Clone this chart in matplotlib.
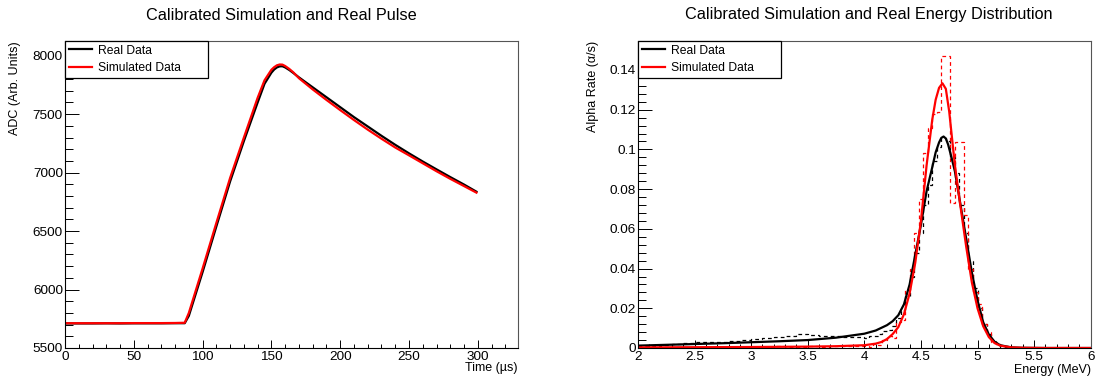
import numpy as np
import matplotlib
matplotlib.use("Agg")
import matplotlib.pyplot as plt
from matplotlib.ticker import MultipleLocator, FormatStrFormatter

plt.rcParams['font.family'] = ['Liberation Sans', 'DejaVu Sans']

# ---- Pulse data (time in us, ADC counts) ----
pulse_time = [0, 10, 20, 30, 40, 50, 60, 70, 80, 87, 90, 100, 110, 120, 130, 140, 145,
              150, 152, 154, 156, 158, 160, 163, 166, 170, 180, 190, 200, 210, 220, 230,
              240, 250, 260, 270, 280, 290, 299]
pulse_real = [5710, 5710, 5710, 5711, 5710, 5711, 5711, 5711, 5712, 5712, 5775, 6150,
              6540, 6925, 7270, 7600, 7760, 7855, 7882, 7900, 7909, 7910, 7900, 7878,
              7852, 7815, 7730, 7645, 7560, 7475, 7395, 7315, 7238, 7165, 7095, 7028,
              6962, 6898, 6837]
pulse_sim = [5712, 5712, 5712, 5712, 5712, 5713, 5713, 5713, 5714, 5716, 5800, 6180,
             6570, 6955, 7300, 7640, 7790, 7880, 7902, 7918, 7925, 7924, 7912, 7887,
             7857, 7808, 7712, 7622, 7535, 7450, 7368, 7290, 7215, 7148, 7080, 7012,
             6947, 6885, 6829]

# ---- Energy distribution: smooth fits (MeV, alpha/s) ----
fit_real_e = [2.0, 2.25, 2.5, 2.75, 3.0, 3.25, 3.5, 3.75, 4.0, 4.1, 4.2, 4.25, 4.3, 4.35,
              4.4, 4.45, 4.5, 4.55, 4.6, 4.63, 4.66, 4.68, 4.7, 4.72, 4.74, 4.77, 4.8,
              4.85, 4.9, 4.95, 5.0, 5.05, 5.1, 5.15, 5.2, 5.3, 5.4, 5.6, 6.0]
fit_real_v = [0.0012, 0.0016, 0.0020, 0.0024, 0.0029, 0.0034, 0.0040, 0.0052, 0.0072,
              0.0088, 0.0115, 0.0135, 0.0165, 0.022, 0.032, 0.047, 0.062, 0.079, 0.091,
              0.0985, 0.1035, 0.1058, 0.1065, 0.1055, 0.1025, 0.096, 0.089, 0.072,
              0.055, 0.038, 0.024, 0.013, 0.0068, 0.0032, 0.0014, 0.0003, 0.0001, 0.0, 0.0]
fit_sim_e = [2.0, 2.5, 3.0, 3.5, 3.75, 4.0, 4.1, 4.15, 4.2, 4.25, 4.3, 4.35, 4.4, 4.45,
             4.5, 4.55, 4.6, 4.63, 4.66, 4.69, 4.72, 4.75, 4.8, 4.85, 4.9, 4.95, 5.0,
             5.05, 5.1, 5.15, 5.2, 5.3, 5.4, 5.6, 6.0]
fit_sim_v = [0.0003, 0.0004, 0.0005, 0.0007, 0.0009, 0.0014, 0.0022, 0.0030, 0.0045,
             0.0070, 0.0105, 0.0170, 0.0275, 0.043, 0.064, 0.092, 0.115, 0.125, 0.131,
             0.1333, 0.1305, 0.119, 0.092, 0.071, 0.051, 0.033, 0.020, 0.011, 0.0055,
             0.0025, 0.0012, 0.0003, 0.0001, 0.0, 0.0]

# ---- Energy distribution: histograms ----
hist_edges = np.concatenate([np.arange(2.0, 4.0, 0.1), np.arange(4.0, 5.41, 0.04), [6.0]])
hist_real = [0.0010, 0.0010, 0.0015, 0.0020, 0.0025, 0.0030, 0.0028, 0.0032, 0.0035,
             0.0040, 0.0045, 0.0048, 0.0055, 0.0062, 0.0068, 0.0066, 0.0062, 0.0060,
             0.0055, 0.0055,
             0.0050, 0.0058, 0.0062, 0.0070, 0.0085, 0.0090, 0.0110, 0.0150, 0.0190,
             0.0260, 0.0360, 0.0480, 0.0580, 0.0720, 0.0820, 0.0940, 0.1010, 0.1060,
             0.1040, 0.0960, 0.0880, 0.0720, 0.0580, 0.0440, 0.0300, 0.0200, 0.0120,
             0.0070, 0.0035, 0.0020, 0.0010, 0.0005, 0.0003, 0.0001, 0.0, 0.0]
hist_sim = [0.0002, 0.0003, 0.0, 0.0004, 0.0002, 0.0005, 0.0003, 0.0006, 0.0004, 0.0005,
            0.0006, 0.0004, 0.0008, 0.0005, 0.0007, 0.0009, 0.0006, 0.0010, 0.0008, 0.0012,
            0.0010, 0.0005, 0.0020, 0.0015, 0.0040, 0.0060, 0.0050, 0.0130, 0.0140,
            0.0290, 0.0400, 0.0580, 0.0750, 0.0980, 0.1110, 0.1180, 0.1190, 0.1470,
            0.1470, 0.0730, 0.1035, 0.1035, 0.0670, 0.0400, 0.0280, 0.0220, 0.0120,
            0.0080, 0.0030, 0.0020, 0.0, 0.0005, 0.0, 0.0, 0.0, 0.0]

fig = plt.figure(figsize=(10.96, 3.8), dpi=100)
W, H = 1096.0, 380.0
ax1 = fig.add_axes([65 / W, 32 / H, 452.7 / W, 307 / H])
ax2 = fig.add_axes([638 / W, 32 / H, 452.7 / W, 307 / H])


def root_style(ax):
    for side in ['top', 'right']:
        ax.spines[side].set_color('#555555')
    for side in ['left', 'bottom']:
        ax.spines[side].set_color('black')
    for s in ax.spines.values():
        s.set_linewidth(0.8)
    ax.tick_params(axis='both', which='both', direction='in', top=False, right=False,
                   width=0.7, labelsize=9.7, colors='black')
    ax.tick_params(axis='x', which='major', length=5.8, pad=2.5)
    ax.tick_params(axis='x', which='minor', length=3.2)
    ax.tick_params(axis='y', which='major', length=10, pad=1.5)
    ax.tick_params(axis='y', which='minor', length=5.5)


# Left: pulse
ax1.plot(pulse_time, pulse_real, color='black', lw=1.6, label='Real Data')
ax1.plot(pulse_time, pulse_sim, color='red', lw=1.6, label='Simulated Data')
ax1.set_xlim(0, 329)
ax1.set_ylim(5500, 8126)
ax1.xaxis.set_major_locator(MultipleLocator(50))
ax1.xaxis.set_minor_locator(MultipleLocator(10))
ax1.yaxis.set_major_locator(MultipleLocator(500))
ax1.yaxis.set_minor_locator(MultipleLocator(100))
root_style(ax1)

# Right: energy distribution
ax2.stairs(hist_real, hist_edges, baseline=None, color='black', lw=0.9,
           linestyle=(0, (3, 2.5)))
ax2.stairs(hist_sim, hist_edges, baseline=None, color='red', lw=0.9,
           linestyle=(0, (3, 2.5)))
ax2.plot(fit_real_e, fit_real_v, color='black', lw=1.6, label='Real Data')
ax2.plot(fit_sim_e, fit_sim_v, color='red', lw=1.6, label='Simulated Data')
ax2.set_xlim(2, 6)
ax2.set_ylim(0, 0.1546)
ax2.xaxis.set_major_locator(MultipleLocator(0.5))
ax2.xaxis.set_minor_locator(MultipleLocator(0.1))
ax2.yaxis.set_major_locator(MultipleLocator(0.02))
ax2.yaxis.set_minor_locator(MultipleLocator(0.004))
ax2.xaxis.set_major_formatter(FormatStrFormatter('%g'))
ax2.yaxis.set_major_formatter(FormatStrFormatter('%g'))
root_style(ax2)

for ax in (ax1, ax2):
    leg = ax.legend(loc='upper left', bbox_to_anchor=(0, 0, 0.316, 1), mode='expand',
                    borderaxespad=0, fontsize=8.7, fancybox=False, framealpha=1,
                    edgecolor='black', handlelength=1.9, handletextpad=0.5,
                    borderpad=0.3, labelspacing=0.45)
    leg.get_frame().set_linewidth(0.9)

# Titles and axis labels
fig.text(281 / W, 1 - 15 / H, 'Calibrated Simulation and Real Pulse', ha='center',
         va='center', fontsize=11.7)
fig.text(869 / W, 1 - 15 / H, 'Calibrated Simulation and Real Energy Distribution',
         ha='center', va='center', fontsize=11.7)
fig.text(15 / W, 1 - 41 / H, 'ADC (Arb. Units)', rotation=90, ha='center', va='top',
         fontsize=9)
fig.text(593 / W, 1 - 41 / H, 'Alpha Rate (\u03b1/s)', rotation=90, ha='center',
         va='top', fontsize=9)
fig.text(517.7 / W, 1 - 368 / H, 'Time (\u00b5s)', ha='right', va='center', fontsize=9)
fig.text(1090.7 / W, 1 - 370 / H, 'Energy (MeV)', ha='right', va='center', fontsize=9)

fig.savefig('out.png', dpi=100, facecolor='white')
